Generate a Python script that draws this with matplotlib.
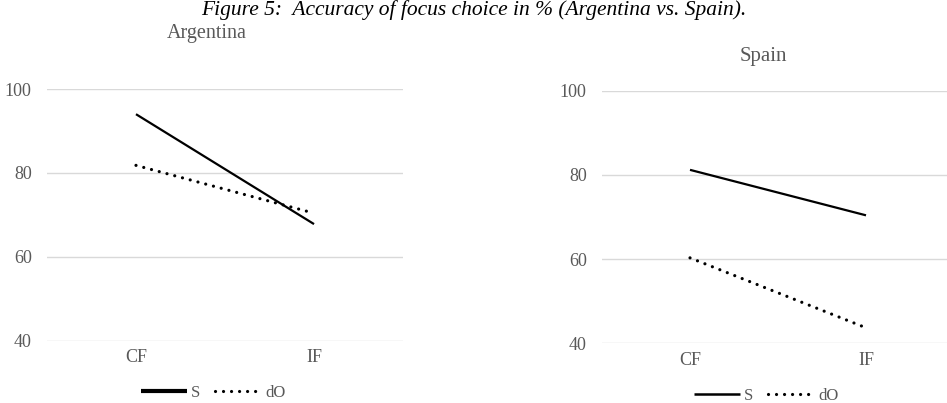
import matplotlib
matplotlib.use('Agg')
import matplotlib.pyplot as plt
import numpy as np

## accuracy of focus choice (%), two conditions per country
conditions = ['CF', 'IF']
argentina_S  = [94.0, 67.8]
argentina_dO = [81.8, 70.4]
spain_S  = [81.2, 70.4]
spain_dO = [60.3, 43.7]

plt.rcParams['font.family'] = ['Liberation Serif', 'DejaVu Serif']

grey = '#595959'
gridc = '#d9d9d9'

fig = plt.figure(figsize=(9.47, 4.03), dpi=100)

## axes boxes: left, bottom, width, height
ax1 = fig.add_axes([0.0496, 0.1546, 0.376, 0.6245])
ax2 = fig.add_axes([0.6357, 0.1480, 0.3717, 0.627])

def panel(ax, s_vals, do_vals, s_legend_lw):
    x = np.arange(len(conditions))
    ax.plot(x, s_vals, color='black', lw=1.6, solid_capstyle='butt', label='S')
    ax.plot(x, do_vals, color='black', lw=2.3, dashes=(0.01, 2.5),
            dash_capstyle='round', label='dO')
    ax.set_xlim(-0.5, 1.5)
    ax.set_ylim(40, 100)
    ax.set_yticks([40, 60, 80, 100])
    ax.set_xticks(x)
    ax.set_xticklabels(conditions)
    ax.grid(axis='y', color=gridc, lw=1.0)
    ax.set_axisbelow(True)
    for sp in ax.spines.values():
        sp.set_visible(False)
    ax.tick_params(axis='y', length=0, pad=11, labelsize=13, labelcolor=grey)
    ax.tick_params(axis='x', length=0, pad=6, labelsize=13, labelcolor=grey)
    leg = ax.legend(loc='center', bbox_to_anchor=(0.466, -0.208), ncol=2,
                    frameon=False, fontsize=12, handlelength=2.8,
                    handletextpad=0.2, columnspacing=0.9)
    for t in leg.get_texts():
        t.set_color(grey)
    leg.legend_handles[0].set_linewidth(s_legend_lw)

panel(ax1, argentina_S, argentina_dO, 3.0)
panel(ax2, spain_S, spain_dO, 1.8)

fig.text(0.5, 0.999, 'Figure 5:  Accuracy of focus choice in % (Argentina vs. Spain).',
         ha='center', va='top', style='italic', fontsize=15.5, color='black')
fig.text(0.2186, 0.918, 'Argentina', ha='center', va='center', fontsize=14.5, color=grey)
fig.text(0.806, 0.859, 'Spain', ha='center', va='center', fontsize=15, color=grey)

plt.savefig('out.png', dpi=100)
plt.close(fig)
